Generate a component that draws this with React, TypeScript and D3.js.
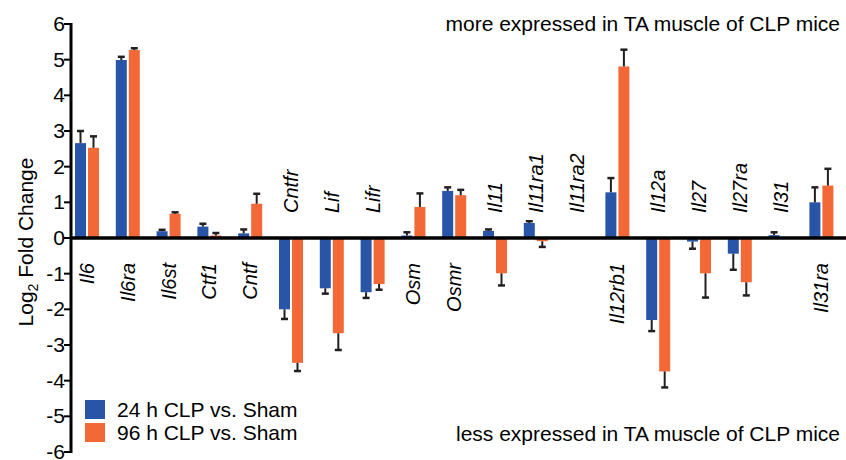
import React from "react";
import * as d3 from "d3";

const genes = ["Il6", "Il6ra", "Il6st", "Ctf1", "Cntf", "Cntfr", "Lif", "Lifr", "Osm", "Osmr", "Il11", "Il11ra1", "Il11ra2", "Il12rb1", "Il12a", "Il27", "Il27ra", "Il31", "Il31ra"];
const fc24 = [2.66, 4.99, 0.19, 0.32, 0.13, -2.0, -1.41, -1.52, 0.07, 1.32, 0.2, 0.42, null, 1.28, -2.3, -0.1, -0.44, 0.08, 1.0];
const err24 = [0.34, 0.09, 0.04, 0.08, 0.11, 0.27, 0.15, 0.16, 0.09, 0.1, 0.04, 0.05, null, 0.4, 0.31, 0.2, 0.45, 0.08, 0.42];
const fc96 = [2.53, 5.27, 0.68, 0.07, 0.96, -3.5, -2.67, -1.29, 0.87, 1.2, -0.99, -0.09, null, 4.81, -3.74, -0.99, -1.24, null, 1.47];
const err96 = [0.32, 0.05, 0.04, 0.07, 0.28, 0.23, 0.47, 0.16, 0.38, 0.15, 0.34, 0.16, null, 0.47, 0.45, 0.68, 0.37, null, 0.47];
const seriesNames = ["24 h CLP vs. Sham", "96 h CLP vs. Sham"];
const yTicks = [6, 5, 4, 3, 2, 1, 0, -1, -2, -3, -4, -5, -6];

const colors = ["#2855a8", "#f26836"];
const font = "'Liberation Sans', Arial, Helvetica, sans-serif";

const App = () => {
  const ref = React.useRef<SVGSVGElement>(null);

  React.useEffect(() => {
    const svg = d3.select(ref.current);
    svg.selectAll("*").remove();

    const y = d3.scaleLinear().domain([-6, 6]).range([452, 24]);
    const x = d3.scaleBand().domain(genes).range([66.6, 841.8]).paddingInner(0).paddingOuter(0);
    const xs = d3.scaleBand().domain(["a", "b"]).range([-12, 12]).paddingInner(0.154);
    const axisX = 71;

    const rows = genes.map((g, i) => ({
      gene: g,
      vals: [
        { key: "a", v: fc24[i], e: err24[i], c: colors[0] },
        { key: "b", v: fc96[i], e: err96[i], c: colors[1] },
      ],
    }));

    const g = svg.append("g");

    // bars + error bars
    rows.forEach((r) => {
      const cx = x(r.gene)! + x.bandwidth() / 2;
      r.vals.forEach((d) => {
        if (d.v == null) return;
        const bx = cx + xs(d.key)!;
        const bw = xs.bandwidth();
        g.append("rect")
          .attr("x", bx)
          .attr("width", bw)
          .attr("y", Math.min(y(d.v), y(0)))
          .attr("height", Math.abs(y(d.v) - y(0)))
          .attr("fill", d.c);
        const tip = d.v >= 0 ? d.v + d.e! : d.v - d.e!;
        const mx = bx + bw / 2;
        g.append("line")
          .attr("x1", mx).attr("x2", mx)
          .attr("y1", y(d.v)).attr("y2", y(tip))
          .attr("stroke", "#231f20").attr("stroke-width", 2);
        g.append("line")
          .attr("x1", mx - 3.5).attr("x2", mx + 3.5)
          .attr("y1", y(tip)).attr("y2", y(tip))
          .attr("stroke", "#231f20").attr("stroke-width", 2.5);
      });
    });

    // gene labels (above the axis when a bar goes down or is missing)
    rows.forEach((r) => {
      const cx = x(r.gene)! + x.bandwidth() / 2;
      const above = r.vals.some((d) => d.v == null || d.v < 0);
      const ly = above ? 213 : 263;
      g.append("text")
        .attr("transform", `translate(${cx + 7},${ly}) rotate(-90)`)
        .attr("text-anchor", above ? "start" : "end")
        .attr("font-family", font)
        .attr("font-size", 20)
        .attr("font-style", "italic")
        .text(r.gene);
    });

    // y axis
    g.append("line")
      .attr("x1", axisX).attr("x2", axisX)
      .attr("y1", y(6) - 1).attr("y2", y(-6) + 1)
      .attr("stroke", "#000").attr("stroke-width", 3);
    yTicks.forEach((t) => {
      g.append("line")
        .attr("x1", axisX - 7).attr("x2", axisX)
        .attr("y1", y(t)).attr("y2", y(t))
        .attr("stroke", "#000").attr("stroke-width", 2);
      g.append("text")
        .attr("x", axisX - 6)
        .attr("y", y(t))
        .attr("dy", "0.34em")
        .attr("text-anchor", "end")
        .attr("font-family", font)
        .attr("font-size", 21)
        .text(String(t));
    });
    // zero line
    g.append("line")
      .attr("x1", axisX).attr("x2", 846)
      .attr("y1", y(0)).attr("y2", y(0))
      .attr("stroke", "#000").attr("stroke-width", 3.5);

    // y title
    const yt = g.append("text")
      .attr("transform", `translate(33,242) rotate(-90)`)
      .attr("text-anchor", "middle")
      .attr("font-family", font)
      .attr("font-size", 21);
    yt.append("tspan").text("Log");
    yt.append("tspan").attr("font-size", 14).attr("dy", 5).text("2");
    yt.append("tspan").attr("dy", -5).text(" Fold Change");

    // annotations
    g.append("text")
      .attr("x", 840).attr("y", 31)
      .attr("text-anchor", "end")
      .attr("font-family", font).attr("font-size", 21)
      .text("more expressed in TA muscle of CLP mice");
    g.append("text")
      .attr("x", 840).attr("y", 441)
      .attr("text-anchor", "end")
      .attr("font-family", font).attr("font-size", 21)
      .text("less expressed in TA muscle of CLP mice");

    // legend
    seriesNames.forEach((s, i) => {
      g.append("rect")
        .attr("x", 85).attr("y", 400 + i * 23)
        .attr("width", 20).attr("height", 19)
        .attr("fill", colors[i]);
      g.append("text")
        .attr("x", 117).attr("y", 417 + i * 23)
        .attr("font-family", font).attr("font-size", 21)
        .text(s);
    });
  }, []);

  return (
    <svg
      ref={ref}
      width={846}
      height={460}
      style={{ position: "absolute", left: 0, top: 0, background: "#fff" }}
    />
  );
};

export default App;
